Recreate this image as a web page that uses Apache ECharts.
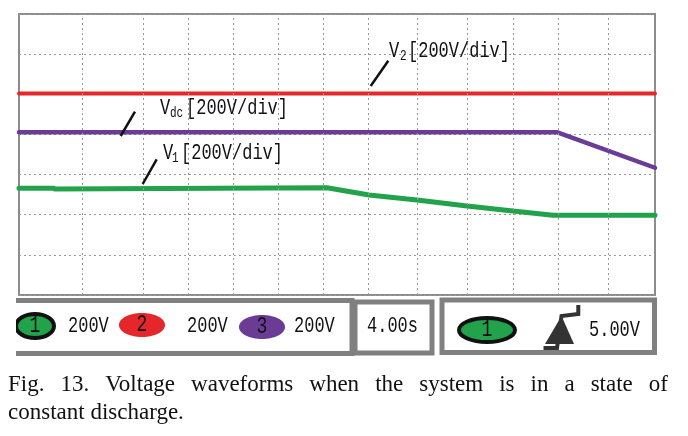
<!DOCTYPE html>
<html><head><meta charset="utf-8">
<script src="https://cdn.jsdelivr.net/npm/echarts@6/dist/echarts.min.js"></script>
<style>html,body{margin:0;padding:0;background:#fff}#c{width:688px;height:436px}</style>
</head><body><div id="c"></div>
<script>
// Time in seconds (nominal 4.00 s/div), voltage in display volts (200 V/div)
const v2Time = [0, 56];
const v2Volt = [1004, 1004];
const vdcTime = [0, 47.35, 56];
const vdcVolt = [811, 811, 634];
const v1Time = [0, 3.0, 3.2, 27.12, 30.82, 35.04, 39.45, 43.5, 47.02, 56];
const v1Volt = [532, 532, 528, 534, 498, 473, 443, 418, 397, 397];
const gridTimes = [5.55, 10.92, 14.88, 18.84, 22.8, 26.77, 30.73, 35.04, 39.45, 43.5, 47.46, 51.86];
const channelIds = ['1', '2', '3'];
const channelScales = ['200V', '200V', '200V'];
const timeBase = '4.00s';
const triggerSource = '1';
const triggerLevel = '5.00V';
const traceNames = [['V', '2'], ['V', 'dc'], ['V', '1']];
const traceScale = '[200V/div]';
const captionLine1 = 'Fig. 13. Voltage waveforms when the system is in a state of';
const captionLine2 = 'constant discharge.';

const RED = '#e5262b', PURPLE = '#6a3c96', GREEN = '#21a24b', BOX = '#808080';
const MONO = '"Liberation Mono", monospace';
const SERIF = '"Liberation Serif", "Times New Roman", serif';

const chart = echarts.init(document.getElementById('c'), null, {renderer: 'canvas'});
const pair = (t, v) => t.map((x, i) => [x, v[i]]);

function monoText(x, y, text, size, align) {
  return {
    type: 'text', x: x, y: y, scaleY: 1.3, z: 20,
    style: {text: text, font: size + 'px ' + MONO, fill: '#111', textAlign: align || 'left', textVerticalAlign: 'middle'}
  };
}

const graphics = [];
// leader lines + labels
const leaders = [[370.7, 86, 388.3, 60.7], [120.7, 136, 135, 111.7], [142.7, 184, 156.7, 159.3]];
const labelPos = [[389, 51, 400, 408], [160, 108, 170, 186], [163, 153, 172, 181]];
leaders.forEach((l, i) => {
  graphics.push({type: 'line', z: 20, shape: {x1: l[0], y1: l[1], x2: l[2], y2: l[3]}, style: {stroke: '#111', lineWidth: 2.5}});
  const p = labelPos[i];
  graphics.push(monoText(p[0], p[1], traceNames[i][0], 17));
  graphics.push(monoText(p[2], p[1] + 5, traceNames[i][1], 11));
  graphics.push(monoText(p[3], p[1], traceScale, 17));
});

// bottom panel boxes
graphics.push({type: 'rect', z: 10, shape: {x: -20, y: 300.5, width: 372, height: 53}, style: {fill: '#fff', stroke: BOX, lineWidth: 5}});
graphics.push({type: 'rect', z: 10, shape: {x: 355, y: 302, width: 77, height: 51}, style: {fill: '#fff', stroke: BOX, lineWidth: 5}});
graphics.push({type: 'rect', z: 10, shape: {x: 442, y: 300, width: 212.5, height: 52.5}, style: {fill: '#fff', stroke: BOX, lineWidth: 5}});
// channel badges
const badgeSpec = [[35, 326, 19, 12, GREEN, true], [142, 325, 23, 12, RED, false], [262, 327, 23, 12, PURPLE, false]];
const scalePosX = [68, 187, 294];
badgeSpec.forEach((b, i) => {
  graphics.push({type: 'ellipse', z: 12, shape: {cx: b[0], cy: b[1], rx: b[2], ry: b[3]},
    style: {fill: b[4], stroke: b[5] ? '#111' : null, lineWidth: b[5] ? 4 : 0}});
  graphics.push(monoText(b[0], b[1], channelIds[i], 18, 'center'));
  graphics.push(monoText(scalePosX[i], 326, channelScales[i], 17));
});
// white cover at left of panel
graphics.push({type: 'rect', z: 30, shape: {x: 0, y: 296, width: 16, height: 64}, style: {fill: '#fff'}});
graphics.push(monoText(367, 326, timeBase, 17));
// trigger badge
graphics.push({type: 'ellipse', z: 12, shape: {cx: 487, cy: 330, rx: 28, ry: 12}, style: {fill: GREEN, stroke: '#111', lineWidth: 4}});
graphics.push(monoText(487, 330, triggerSource, 18, 'center'));
// trigger icon
graphics.push({type: 'polygon', z: 12, shape: {points: [[561.5, 316], [545, 344], [574, 344]]}, style: {fill: '#333'}});
graphics.push({type: 'polyline', z: 12, shape: {points: [[543.5, 348], [557, 348], [561.5, 316], [578.3, 314], [578.3, 305]]}, style: {stroke: '#333', lineWidth: 4, fill: null}});
graphics.push(monoText(589, 330, triggerLevel, 17));

// caption, justified first line
const cctx = document.createElement('canvas').getContext('2d');
const capFont = '23px ' + SERIF;
cctx.font = capFont;
const words = captionLine1.split(' ');
const wWidths = words.map(w => cctx.measureText(w).width);
const left = 8, right = 668;
const gap = (right - left - wWidths.reduce((a, b) => a + b, 0)) / (words.length - 1);
let cx = left;
words.forEach((w, i) => {
  graphics.push({type: 'text', x: cx, y: 373, z: 20, style: {text: w, font: capFont, fill: '#111', textAlign: 'left', textVerticalAlign: 'top'}});
  cx += wWidths[i] + gap;
});
graphics.push({type: 'text', x: left, y: 401, z: 20, style: {text: captionLine2, font: capFont, fill: '#111', textAlign: 'left', textVerticalAlign: 'top'}});

const dotted = {color: '#9a9a9a', width: 1, type: [2, 3]};

chart.setOption({
  animation: false,
  backgroundColor: '#fff',
  grid: {left: 19, top: 14, width: 636, height: 281, show: true, borderColor: '#8c8c8c', borderWidth: 2, backgroundColor: 'transparent'},
  xAxis: {type: 'value', min: 0, max: 56, axisLine: {show: false}, axisTick: {show: false}, axisLabel: {show: false}, splitLine: {show: false}},
  yAxis: {type: 'value', min: 0, max: 1400, interval: 200, axisLine: {show: false}, axisTick: {show: false}, axisLabel: {show: false},
    splitLine: {show: true, lineStyle: dotted}},
  series: [
    {type: 'line', data: [], silent: true, z: 1,
      markLine: {silent: true, symbol: 'none', label: {show: false}, lineStyle: dotted, emphasis: {disabled: true},
        data: gridTimes.map(t => ({xAxis: t}))}},
    {name: 'Vdc', type: 'line', data: pair(vdcTime, vdcVolt), showSymbol: false, z: 3, lineStyle: {color: PURPLE, width: 4.5, cap: 'round'}, itemStyle: {color: PURPLE}},
    {name: 'V1', type: 'line', data: pair(v1Time, v1Volt), showSymbol: false, z: 3, lineStyle: {color: GREEN, width: 5, cap: 'round'}, itemStyle: {color: GREEN}},
    {name: 'V2', type: 'line', data: pair(v2Time, v2Volt), showSymbol: false, z: 3, lineStyle: {color: RED, width: 4, cap: 'round'}, itemStyle: {color: RED}}
  ],
  graphic: graphics
});
</script></body></html>
